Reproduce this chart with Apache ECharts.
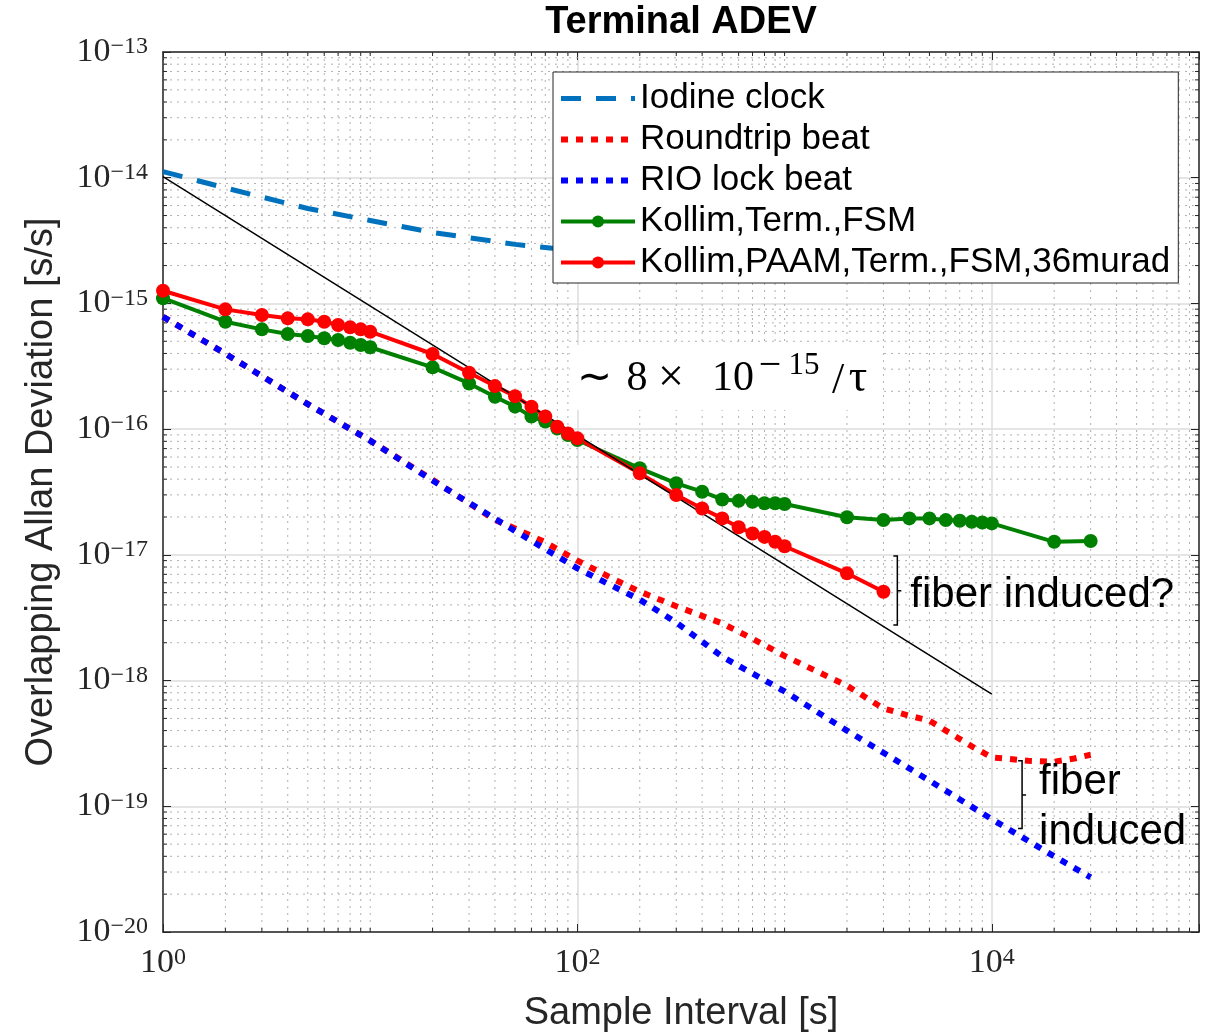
<!DOCTYPE html>
<html><head><meta charset="utf-8">
<script src="https://cdn.jsdelivr.net/npm/echarts@6/dist/echarts.min.js"></script>
<style>html,body{margin:0;padding:0;background:#fff}#c{width:1210px;height:1036px}</style>
</head><body><div id="c"></div>
<script>
// ---------- data ----------
const seriesNames = ['Iodine clock', 'Roundtrip beat', 'RIO lock beat', 'Kollim,Term.,FSM', 'Kollim,PAAM,Term.,FSM,36murad'];

const iodineTau  = [1, 2, 5, 10, 20, 50, 100];
const iodineAdev = [1.117e-14, 8.3e-15, 5.69e-15, 4.57e-15, 3.67e-15, 2.95e-15, 2.63e-15];

const roundtripTau  = [1, 2, 5, 10, 20, 40, 50, 70, 100, 150, 200, 300, 500, 700, 1000, 2000, 3000, 4000, 5000, 6000, 8000, 10000, 15000, 20000, 25000, 30000];
const roundtripAdev = [7.83e-16, 3.98e-16, 1.58e-16, 8.1e-17, 3.95e-17, 1.9e-17, 1.62e-17, 1.26e-17, 9.0e-18, 6.4e-18, 5.1e-18, 3.9e-18, 2.85e-18, 2.15e-18, 1.57e-18, 9.1e-19, 6.0e-19, 5.25e-19, 4.8e-19, 4.0e-19, 3.0e-19, 2.45e-19, 2.3e-19, 2.26e-19, 2.4e-19, 2.57e-19];

const rioTau  = [1, 2, 5, 10, 20, 50, 100, 200, 300, 500, 1000, 2000, 5000, 10000, 20000, 30000];
const rioAdev = [7.83e-16, 3.98e-16, 1.58e-16, 8.1e-17, 3.9e-17, 1.55e-17, 7.8e-18, 4.4e-18, 2.9e-18, 1.55e-18, 8.2e-19, 4.0e-19, 1.6e-19, 7.9e-20, 4.0e-20, 2.72e-20];

const termTau  = [1, 2, 3, 4, 5, 6, 7, 8, 9, 10, 20, 30, 40, 50, 60, 70, 80, 90, 100, 200, 300, 400, 500, 600, 700, 800, 900, 1000, 2000, 3000, 4000, 5000, 6000, 7000, 8000, 9000, 10000, 20000, 30000];
const termAdev = [1.10e-15, 7.15e-16, 6.22e-16, 5.71e-16, 5.51e-16, 5.28e-16, 5.12e-16, 4.87e-16, 4.67e-16, 4.48e-16, 3.10e-16, 2.31e-16, 1.81e-16, 1.51e-16, 1.26e-16, 1.15e-16, 1.01e-16, 8.97e-17, 8.19e-17, 4.88e-17, 3.71e-17, 3.18e-17, 2.76e-17, 2.69e-17, 2.64e-17, 2.57e-17, 2.57e-17, 2.54e-17, 1.99e-17, 1.89e-17, 1.95e-17, 1.95e-17, 1.89e-17, 1.87e-17, 1.83e-17, 1.81e-17, 1.78e-17, 1.27e-17, 1.29e-17];

const paamTau  = [1, 2, 3, 4, 5, 6, 7, 8, 9, 10, 20, 30, 40, 50, 60, 70, 80, 90, 100, 200, 300, 400, 500, 600, 700, 800, 900, 1000, 2000, 3000];
const paamAdev = [1.262e-15, 8.97e-16, 8.09e-16, 7.61e-16, 7.47e-16, 7.15e-16, 6.73e-16, 6.45e-16, 6.22e-16, 5.96e-16, 3.96e-16, 2.81e-16, 2.20e-16, 1.83e-16, 1.51e-16, 1.26e-16, 1.045e-16, 9.25e-17, 8.45e-17, 4.45e-17, 2.99e-17, 2.34e-17, 1.95e-17, 1.66e-17, 1.48e-17, 1.39e-17, 1.27e-17, 1.17e-17, 7.13e-18, 5.09e-18];

const fitTau  = [1, 10000];
const fitAdev = [1.02e-14, 7.8e-19];

// annotation anchors (data coordinates)
const bracketTau  = [3500, 14000];
const bracketHigh = [9.8e-18, 2.3e-19];
const bracketMid  = [5.18e-18, 1.23e-19];
const bracketLow  = [2.77e-18, 6.67e-20];
const bracketText = ['fiber induced?', 'fiber\ninduced'];
const slopeLabelAt = [103, 2.5e-16];

// axis ranges
const X_MIN = 1, X_MAX = 1e5, Y_MIN = 1e-20, Y_MAX = 1e-13;

// ---------- helpers ----------
const zip = (a, b) => a.map((v, i) => [v, b[i]]);
const SANS = "'Liberation Sans', Arial, Helvetica, sans-serif";
const SERIF = "'Liberation Serif', 'Times New Roman', serif";
const AX = '#262626';

const xMinor = [10, 1000];
for (let d = 0; d < 5; d++) for (let k = 2; k <= 9; k++) xMinor.push(k * Math.pow(10, d));
const yMinor = [];
for (let e = -20; e < -13; e++) for (let k = 2; k <= 9; k++) yMinor.push(k * Math.pow(10, e));

function expText(v) {
  const e = Math.round(Math.log10(v));
  return '{b|10}{s|' + (e < 0 ? '\u2212' + (-e) : String(e)) + '}';
}
const tickRich = {
  b: {fontFamily: SERIF, fontSize: 34, lineHeight: 34, color: AX, verticalAlign: 'bottom'},
  s: {fontFamily: SERIF, fontSize: 24, lineHeight: 24, color: AX, verticalAlign: 'top', padding: [0, 0, 13, 0]}
};

const axisLine = {show: true, onZero: false, lineStyle: {color: AX, width: 1.5}};
const majorTick = {show: true, inside: true, length: 8, lineStyle: {color: AX, width: 1}};
const majorGrid = {show: true, lineStyle: {color: '#dcdcdc', width: 1.5}};

// slope-label glyph layout (offsets from the anchor, px)
const slopeGlyphs = [
  {t: '\u223C', dx: 14, dy: 0, size: 42},
  {t: '8', dx: 57, dy: 0, size: 42},
  {t: '\u00D7', dx: 91, dy: 0, size: 46},
  {t: '10', dx: 153, dy: 0, size: 42},
  {t: '\u2212', dx: 190, dy: -13, size: 40},
  {t: '15', dx: 224, dy: -13, size: 31},
  {t: '/', dx: 258, dy: 2, size: 44},
  {t: '\u03C4', dx: 278, dy: 0, size: 46}
];

const chart = echarts.init(document.getElementById('c'), null, {renderer: 'canvas'});

const legendData = seriesNames.map((n, i) => i < 3 ? {name: n, itemStyle: {opacity: 0}} : {name: n});

const option = {
  animation: false,
  backgroundColor: '#fff',
  grid: {left: 163, right: 11, top: 52, bottom: 104, containLabel: false, outerBoundsMode: 'none'},
  graphic: [{
    type: 'text', x: 681, y: 23, z: 100,
    style: {text: 'Terminal ADEV', fontFamily: SANS, fontSize: 38, fontWeight: 'bold', fill: '#000', align: 'center', verticalAlign: 'middle'}
  }],
  legend: {
    data: legendData, orient: 'vertical', left: 553, top: 72,
    itemWidth: 74, itemHeight: 15, itemGap: 6,
    padding: [9, 8, 3, 5],
    backgroundColor: '#fff', borderColor: AX, borderWidth: 1, borderRadius: 0,
    lineStyle: {width: 'inherit'},
    textStyle: {fontFamily: SANS, fontSize: 35, lineHeight: 34, color: '#000'},
    selectedMode: false, z: 20
  },
  xAxis: [{
    type: 'log', logBase: 100, min: X_MIN, max: X_MAX, interval: 1, position: 'bottom',
    name: 'Sample Interval [s]', nameLocation: 'middle', nameGap: 63,
    nameTextStyle: {fontFamily: SANS, fontSize: 38, color: AX},
    axisLine, axisTick: majorTick,
    axisLabel: {margin: 14, formatter: v => { const e = Math.round(Math.log10(v)); return (e % 2 === 0 && e <= 4) ? expText(v) : ''; }, rich: tickRich},
    splitLine: majorGrid
  }, {
    type: 'log', logBase: 100, min: X_MIN, max: X_MAX, interval: 1, position: 'top',
    axisLine, axisTick: majorTick, axisLabel: {show: false}, splitLine: {show: false}
  }],
  yAxis: [{
    type: 'log', logBase: 10, min: Y_MIN, max: Y_MAX, interval: 1, position: 'left',
    name: 'Overlapping Allan Deviation [s/s]', nameLocation: 'middle', nameGap: 102,
    nameTextStyle: {fontFamily: SANS, fontSize: 38, color: AX},
    axisLine, axisTick: majorTick,
    axisLabel: {margin: 15, formatter: v => expText(v), rich: tickRich},
    splitLine: majorGrid
  }, {
    type: 'log', logBase: 10, min: Y_MIN, max: Y_MAX, interval: 1, position: 'right',
    axisLine, axisTick: majorTick, axisLabel: {show: false}, splitLine: {show: false}
  }],
  series: [
    {
      type: 'custom', name: 'xminor', silent: true, z: 1,
      data: xMinor.map(v => [v, Y_MIN]),
      renderItem: (p, api) => {
        const v = api.value(0);
        const a = api.coord([v, Y_MAX]), b = api.coord([v, Y_MIN]);
        return {type: 'group', children: [
          {type: 'line', shape: {x1: a[0], y1: a[1], x2: b[0], y2: b[1]}, style: {stroke: '#b0b0b0', lineWidth: 1, lineDash: [2, 5]}},
          {type: 'line', shape: {x1: b[0], y1: b[1], x2: b[0], y2: b[1] - 4}, style: {stroke: AX, lineWidth: 1}},
          {type: 'line', shape: {x1: a[0], y1: a[1], x2: a[0], y2: a[1] + 4}, style: {stroke: AX, lineWidth: 1}}
        ]};
      }
    },
    {
      type: 'custom', name: 'yminor', silent: true, z: 1,
      data: yMinor.map(v => [X_MIN, v]),
      renderItem: (p, api) => {
        const v = api.value(1);
        const a = api.coord([X_MIN, v]), b = api.coord([X_MAX, v]);
        return {type: 'group', children: [
          {type: 'line', shape: {x1: a[0], y1: a[1], x2: b[0], y2: b[1]}, style: {stroke: '#b0b0b0', lineWidth: 1, lineDash: [2, 5]}},
          {type: 'line', shape: {x1: a[0], y1: a[1], x2: a[0] + 4, y2: a[1]}, style: {stroke: AX, lineWidth: 1}},
          {type: 'line', shape: {x1: b[0], y1: b[1], x2: b[0] - 4, y2: b[1]}, style: {stroke: AX, lineWidth: 1}}
        ]};
      }
    },
    {
      name: seriesNames[0], type: 'line', data: zip(iodineTau, iodineAdev), symbol: 'none',
      lineStyle: {color: '#0072BD', width: 5, type: [20, 15]}, itemStyle: {color: '#0072BD'}
    },
    {
      name: seriesNames[1], type: 'line', data: zip(roundtripTau, roundtripAdev), symbol: 'none',
      lineStyle: {color: '#FF0000', width: 6, type: [7, 8]}, itemStyle: {color: '#FF0000'}
    },
    {
      name: seriesNames[2], type: 'line', data: zip(rioTau, rioAdev), symbol: 'none',
      lineStyle: {color: '#0000FF', width: 6, type: [7, 8]}, itemStyle: {color: '#0000FF'}
    },
    {
      name: seriesNames[3], type: 'line', data: zip(termTau, termAdev), symbol: 'circle', symbolSize: 14, showAllSymbol: true,
      lineStyle: {color: '#008000', width: 4}, itemStyle: {color: '#008000'}
    },
    {
      name: seriesNames[4], type: 'line', data: zip(paamTau, paamAdev), symbol: 'circle', symbolSize: 14, showAllSymbol: true,
      lineStyle: {color: '#FF0000', width: 4}, itemStyle: {color: '#FF0000'}
    },
    {
      name: 'fit', type: 'line', data: zip(fitTau, fitAdev), symbol: 'none',
      lineStyle: {color: '#000', width: 1.5}
    },
    {
      type: 'custom', name: 'brackets', silent: true, z: 10,
      data: bracketTau.map((t, i) => [t, bracketMid[i], bracketHigh[i], bracketLow[i], i]),
      renderItem: (p, api) => {
        const i = api.value(4);
        const m = api.coord([api.value(0), api.value(1)]);
        const h = api.coord([api.value(0), api.value(2)]);
        const l = api.coord([api.value(0), api.value(3)]);
        const x = m[0];
        const textDx = i === 0 ? 13 : 17;
        const textDy = i === 0 ? 5 : 12;
        return {type: 'group', children: [
          {type: 'polyline', shape: {points: [[x - 4, h[1]], [x, h[1]], [x, l[1]], [x - 4, l[1]]]}, style: {stroke: '#000', lineWidth: 1.5, fill: null}},
          {type: 'line', shape: {x1: x, y1: m[1], x2: x + 4, y2: m[1]}, style: {stroke: '#000', lineWidth: 1.5}},
          {type: 'text', x: x + textDx, y: m[1] + textDy, style: {text: bracketText[i], fontFamily: SANS, fontSize: 42, lineHeight: 50, fill: '#000', align: 'left', verticalAlign: 'middle'}}
        ]};
      }
    },
    {
      type: 'custom', name: 'slope', silent: true, z: 12,
      data: [slopeLabelAt],
      renderItem: (p, api) => {
        const c = api.coord([api.value(0), api.value(1)]);
        const children = [{type: 'rect', shape: {x: c[0] - 10, y: c[1] - 34, width: 313, height: 65}, style: {fill: '#fff'}}];
        slopeGlyphs.forEach(g => children.push({
          type: 'text', x: c[0] + g.dx, y: c[1] + g.dy,
          style: {text: g.t, fontFamily: SERIF, fontSize: g.size, fill: '#000', align: 'center', verticalAlign: 'middle'}
        }));
        return {type: 'group', children};
      }
    }
  ]
};
chart.setOption(option);
</script>
</body></html>
